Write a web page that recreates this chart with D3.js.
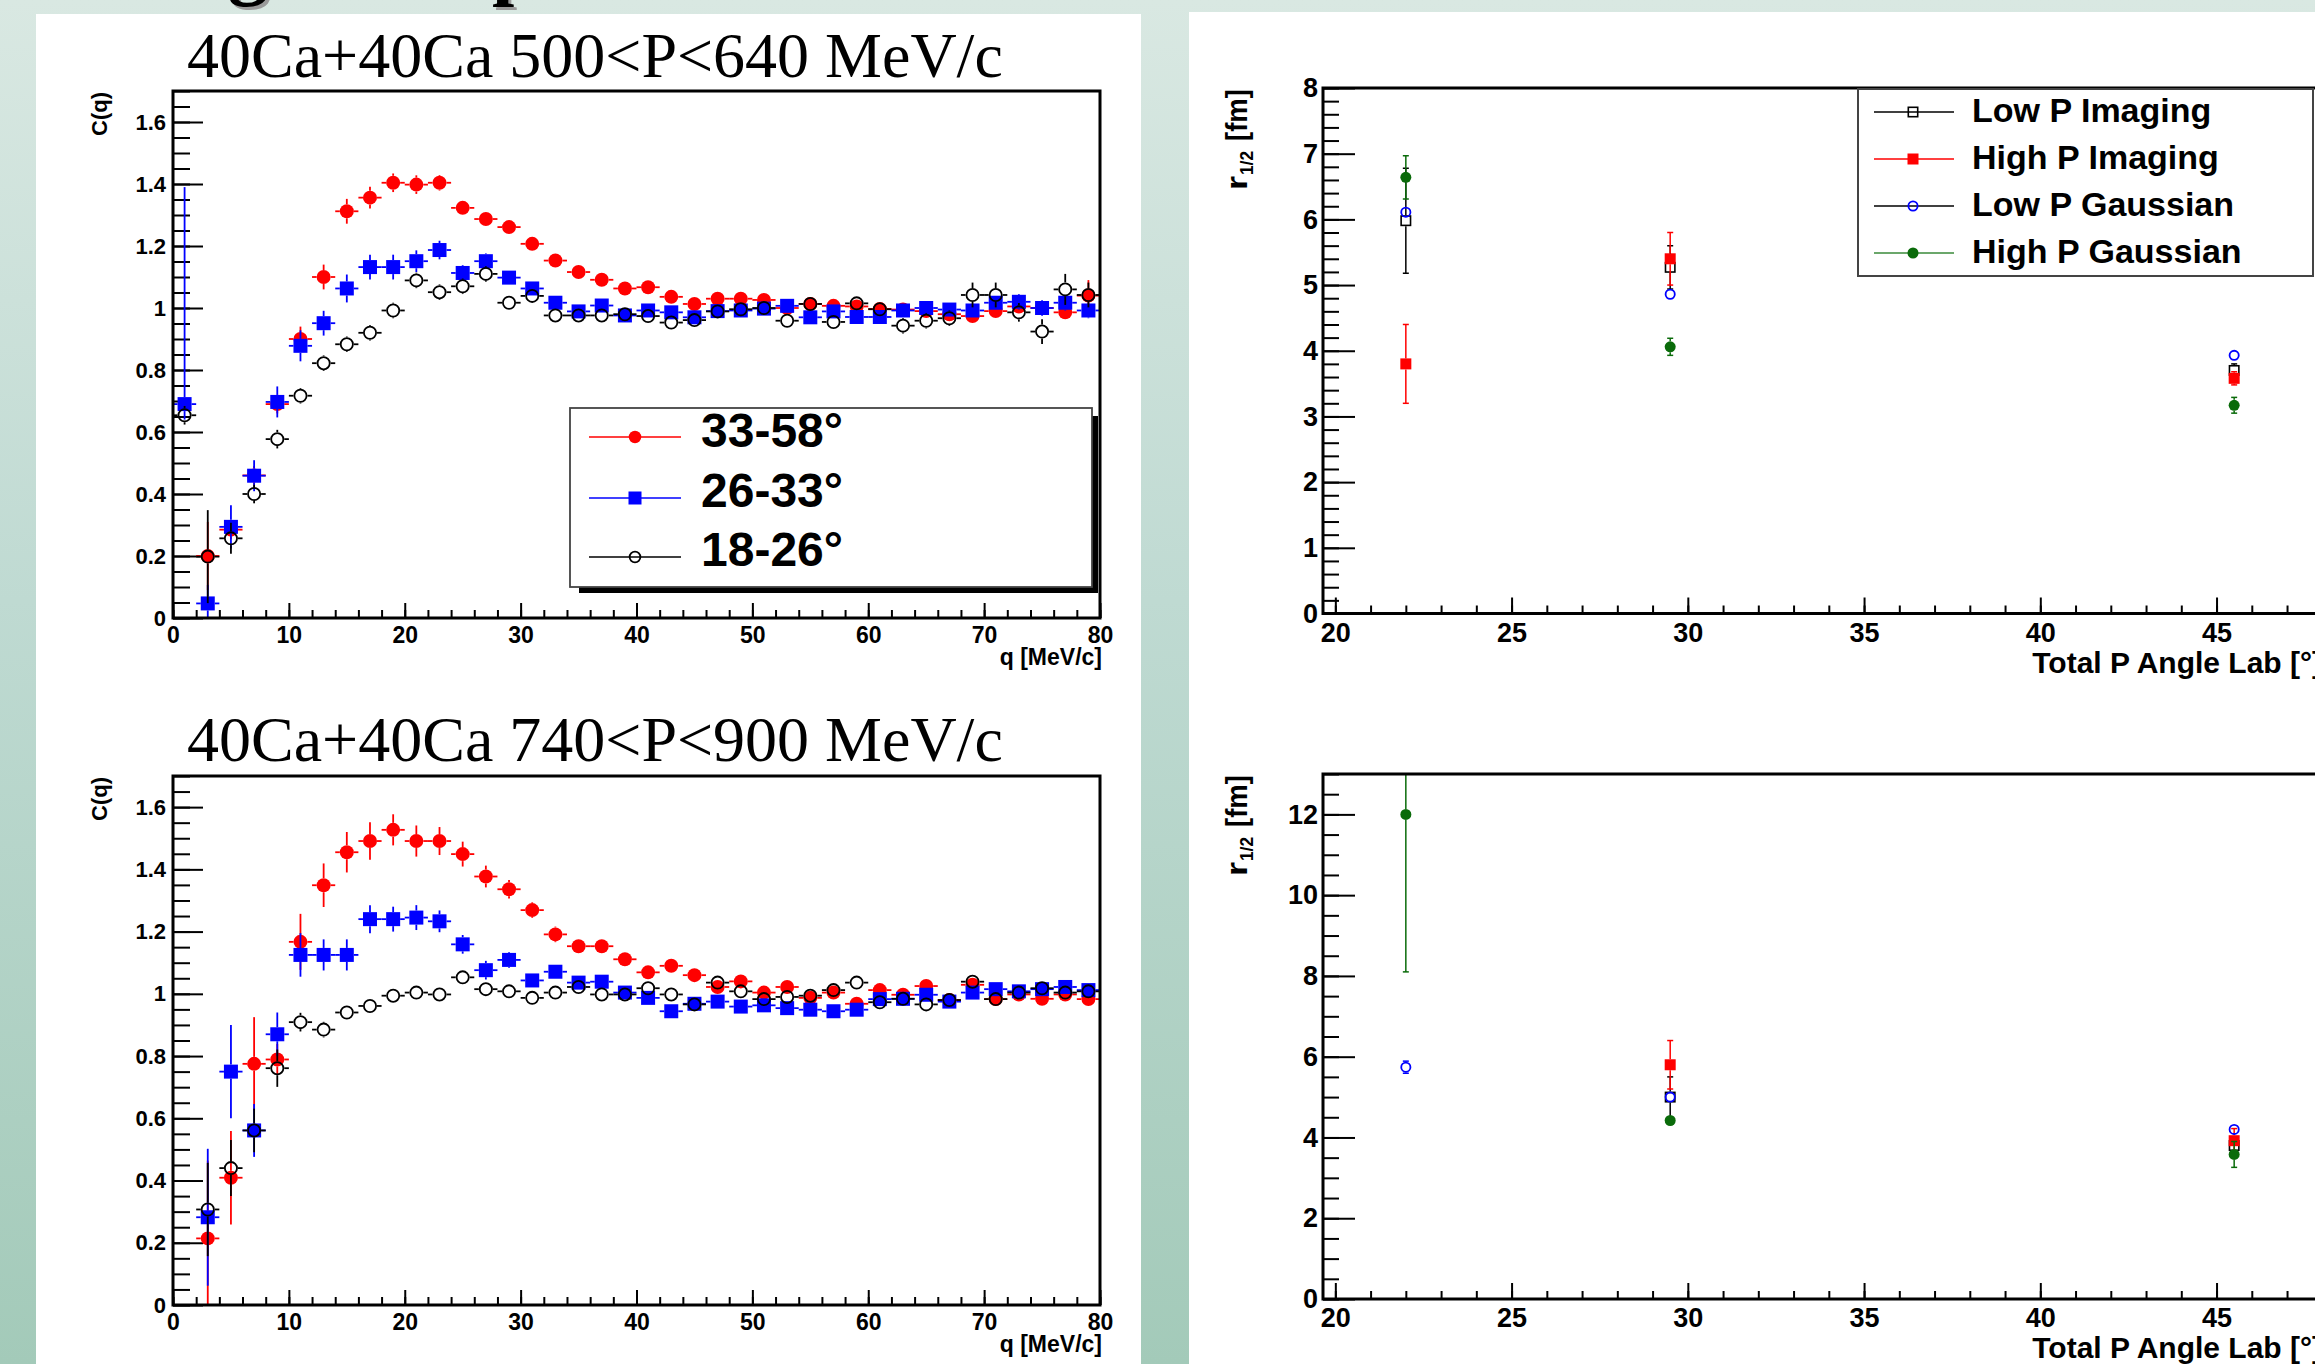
<!DOCTYPE html>
<html><head><meta charset="utf-8">
<script src="https://cdn.jsdelivr.net/npm/d3@7"></script>
<style>body{margin:0;background:#fff}svg{display:block}</style>
</head><body><svg id="c" width="2315" height="1364"></svg>
<script>
// ---------------- DATA ----------------
const qBins = [1,3,5,7,9,11,13,15,17,19,21,23,25,27,29,31,33,35,37,39,41,43,45,47,49,51,53,55,57,59,61,63,65,67,69,71,73,75,77,79];
const seriesNames = ["33-58°", "26-33°", "18-26°"];
const titleLow = "40Ca+40Ca 500<P<640 MeV/c";
const titleHigh = "40Ca+40Ca 740<P<900 MeV/c";

// 500<P<640
const lowRed = [null,0.20,0.285,0.46,0.69,0.90,1.10,1.312,1.356,1.404,1.398,1.404,1.323,1.287,1.261,1.207,1.153,1.116,1.091,1.063,1.067,1.036,1.013,1.03,1.03,1.026,1.0,1.013,1.007,1.005,0.997,0.995,0.99,0.98,0.974,0.99,1.005,1.0,0.986,1.04];
const lowRedErr = [null,0.11,0.03,0.03,0.03,0.04,0.04,0.04,0.035,0.03,0.03,0.025,0.02,0.02,0.02,0.018,0.017,0.016,0.015,0.015,0.015,0.015,0.015,0.015,0.015,0.015,0.015,0.015,0.015,0.015,0.015,0.015,0.015,0.015,0.015,0.015,0.02,0.02,0.02,0.05];
const lowBlue = [0.69,0.047,0.294,0.459,0.697,0.878,0.951,1.063,1.132,1.132,1.151,1.187,1.113,1.151,1.098,1.063,1.017,0.989,1.008,0.976,0.992,0.986,0.970,0.990,0.992,0.998,1.007,0.970,0.989,0.971,0.971,0.992,1.0,0.995,0.992,1.017,1.02,1.0,1.017,0.992];
const lowBlueErr = [0.7,0.06,0.07,0.05,0.05,0.05,0.04,0.045,0.04,0.04,0.035,0.03,0.025,0.025,0.02,0.02,0.02,0.02,0.02,0.02,0.02,0.02,0.02,0.02,0.02,0.02,0.02,0.02,0.02,0.02,0.02,0.02,0.02,0.02,0.02,0.02,0.025,0.025,0.025,0.025];
const lowBlueErrLo = [0.05,0.06,0.07,0.05,0.05,0.05,0.04,0.045,0.04,0.04,0.035,0.03,0.025,0.025,0.02,0.02,0.02,0.02,0.02,0.02,0.02,0.02,0.02,0.02,0.02,0.02,0.02,0.02,0.02,0.02,0.02,0.02,0.02,0.02,0.02,0.02,0.025,0.025,0.025,0.025];
const lowBlack = [0.654,0.198,0.257,0.40,0.577,0.717,0.822,0.883,0.920,0.992,1.089,1.051,1.070,1.110,1.017,1.039,0.976,0.976,0.976,0.98,0.974,0.953,0.961,0.989,0.996,1.0,0.959,1.013,0.955,1.015,0.996,0.943,0.959,0.967,1.042,1.042,0.986,0.924,1.06,1.042];
const lowBlackErr = [0.03,0.15,0.05,0.03,0.03,0.025,0.025,0.025,0.025,0.025,0.025,0.025,0.025,0.025,0.02,0.02,0.02,0.02,0.02,0.02,0.02,0.02,0.02,0.02,0.02,0.02,0.02,0.02,0.02,0.02,0.02,0.025,0.025,0.025,0.04,0.04,0.03,0.04,0.05,0.04];

// 740<P<900
const highRed = [null,0.214,0.409,0.775,0.789,1.167,1.349,1.455,1.491,1.527,1.491,1.491,1.449,1.377,1.336,1.269,1.191,1.153,1.153,1.111,1.069,1.090,1.060,1.022,1.040,1.004,1.022,0.987,1.004,0.968,1.012,0.997,1.025,0.980,1.029,0.983,0.998,0.984,0.998,0.983];
const highRedErr = [null,0.25,0.15,0.15,0.05,0.09,0.07,0.065,0.06,0.05,0.05,0.045,0.04,0.035,0.03,0.025,0.025,0.02,0.02,0.02,0.018,0.018,0.018,0.018,0.018,0.018,0.018,0.018,0.018,0.018,0.018,0.018,0.018,0.018,0.018,0.018,0.018,0.018,0.018,0.018];
const highBlue = [null,0.282,0.750,0.561,0.870,1.125,1.125,1.125,1.240,1.240,1.245,1.233,1.159,1.076,1.109,1.043,1.071,1.036,1.039,1.004,0.987,0.944,0.968,0.975,0.959,0.963,0.954,0.949,0.944,0.949,0.983,0.984,0.997,0.975,1.004,1.015,1.008,1.015,1.022,1.012];
const highBlueErr = [null,0.22,0.15,0.085,0.07,0.07,0.05,0.05,0.045,0.04,0.04,0.035,0.03,0.03,0.025,0.02,0.02,0.018,0.018,0.018,0.018,0.018,0.018,0.018,0.018,0.018,0.018,0.018,0.018,0.018,0.018,0.018,0.018,0.018,0.018,0.018,0.018,0.018,0.018,0.018];
const highBlack = [null,0.307,0.440,0.561,0.761,0.909,0.885,0.940,0.961,0.994,1.004,0.998,1.053,1.015,1.008,0.987,1.004,1.022,0.998,0.998,1.018,0.998,0.966,1.036,1.008,0.983,0.990,0.994,1.012,1.036,0.973,0.984,0.966,0.980,1.039,0.983,1.004,1.018,1.004,1.008];
const highBlackErr = [null,0.15,0.09,0.07,0.06,0.03,0.025,0.02,0.02,0.02,0.02,0.02,0.02,0.02,0.02,0.02,0.02,0.02,0.02,0.02,0.02,0.02,0.02,0.02,0.02,0.02,0.02,0.02,0.02,0.02,0.02,0.02,0.02,0.02,0.02,0.02,0.02,0.02,0.02,0.02];

// Radius vs angle
const radiusNames = ["Low P Imaging", "High P Imaging", "Low P Gaussian", "High P Gaussian"];
const angles = [22, 29.5, 45.5];
// upper panel
const topLPI = [5.98, 5.27, 3.70];   const topLPIErr = [0.8, 0.33, 0.1];
const topHPI = [3.80, 5.40, 3.58];   const topHPIErr = [0.6, 0.4, 0.1];
const topLPG = [6.11, 4.86, 3.93];   const topLPGErr = [0.08, 0.05, 0.05];
const topHPG = [6.64, 4.06, 3.17];   const topHPGErr = [0.33, 0.13, 0.12];
// lower panel
const botLPI = [null, 5.0, 3.80];    const botLPIErr = [null, 0.5, 0.15];
const botHPI = [null, 5.80, 3.92];   const botHPIErr = [null, 0.6, 0.3];
const botLPG = [5.74, 5.0, 4.20];    const botLPGErr = [0.15, 0.05, 0.05];
const botHPG = [12.0, 4.42, 3.58];   const botHPGErr = [3.9, 0.1, 0.32];

// tick values
const cqMajor = [0,0.2,0.4,0.6,0.8,1,1.2,1.4,1.6];
const qMajor = [0,10,20,30,40,50,60,70,80];
const angMajor = [20,25,30,35,40,45];
const rTopMajor = [0,1,2,3,4,5,6,7,8];
const rBotMajor = [0,2,4,6,8,10,12];

// ---------------- DRAW ----------------
const svg = d3.select("#c");
const defs = svg.append("defs");
const grad = defs.append("linearGradient").attr("id","bg").attr("x1",0).attr("y1",0).attr("x2",0).attr("y2",1);
grad.append("stop").attr("offset","0%").attr("stop-color","#d9e8e2");
grad.append("stop").attr("offset","44%").attr("stop-color","#bfdad2");
grad.append("stop").attr("offset","100%").attr("stop-color","#a3cab9");
svg.append("rect").attr("width",2315).attr("height",1364).attr("fill","url(#bg)");

// cut-off slide title (only descenders visible)
const st = svg.append("g").attr("font-family","Liberation Serif, serif").attr("font-weight","bold").attr("font-size",80);
[["g",228],["p",492]].forEach(([t,xx])=>{
  st.append("text").attr("x",xx+3).attr("y",-7).attr("fill","#9a9a9a").text(t);
  st.append("text").attr("x",xx).attr("y",-10).attr("fill","#000").text(t);
});

// white panels
svg.append("rect").attr("x",36).attr("y",14).attr("width",1105).attr("height",1350).attr("fill","#fff");
svg.append("rect").attr("x",1189).attr("y",12).attr("width",1126).attr("height",1352).attr("fill","#fff");

const sans = "Liberation Sans, Arial, Helvetica, sans-serif";
const fmtC = d => d===0 ? "0" : String(+d.toFixed(1));

let clipId = 0;
function addClip(x0,y0,w,h){
  const id = "clip"+(clipId++);
  defs.append("clipPath").attr("id",id).append("rect").attr("x",x0).attr("y",y0).attr("width",w).attr("height",h);
  return id;
}

function styleAxis(g, fs){
  g.select(".domain").remove();
  g.selectAll("line").attr("stroke","#000").attr("stroke-width",2);
  g.selectAll("text").attr("font-family",sans).attr("font-weight","bold").attr("font-size",fs).attr("fill","#000");
}

function range(a,b,s){ const r=[]; for(let v=a; v<=b+1e-9; v+=s) r.push(+v.toFixed(4)); return r; }

function marker(g, type, cx, cy, size, color){
  if(type==="fcircle") g.append("circle").attr("cx",cx).attr("cy",cy).attr("r",size/2).attr("fill",color);
  else if(type==="ocircle") g.append("circle").attr("cx",cx).attr("cy",cy).attr("r",size/2-0.9).attr("fill","none").attr("stroke",color).attr("stroke-width",1.8);
  else if(type==="fsquare") g.append("rect").attr("x",cx-size/2).attr("y",cy-size/2).attr("width",size).attr("height",size).attr("fill",color);
  else if(type==="osquare") g.append("rect").attr("x",cx-size/2+0.8).attr("y",cy-size/2+0.8).attr("width",size-1.6).attr("height",size-1.6).attr("fill","none").attr("stroke",color).attr("stroke-width",1.6);
}

function seg(g,x1,y1,x2,y2,color,w){
  g.append("line").attr("x1",x1).attr("y1",y1).attr("x2",x2).attr("y2",y2).attr("stroke",color).attr("stroke-width",w);
}

// ------- C(q) panels -------
function drawCq(yTop, yBot, title, titleBase, series, legend){
  const x = d3.scaleLinear().domain([0,80]).range([173,1100]);
  const y = d3.scaleLinear().domain([0,1.7]).range([yBot,yTop]);

  svg.append("text").attr("x",187).attr("y",titleBase).attr("font-family","Liberation Serif, Times New Roman, serif")
    .attr("font-size",64).attr("fill","#000").text(title);

  const gyMin = svg.append("g").attr("transform",`translate(${x(0)},0)`)
    .call(d3.axisLeft(y).tickValues(range(0,1.7,0.05)).tickSize(-17).tickFormat(""));
  styleAxis(gyMin,22);
  const gy = svg.append("g").attr("transform",`translate(${x(0)},0)`)
    .call(d3.axisLeft(y).tickValues(cqMajor).tickSize(-30).tickPadding(7).tickFormat(fmtC));
  styleAxis(gy,22);
  const gxMin = svg.append("g").attr("transform",`translate(0,${yBot})`)
    .call(d3.axisBottom(x).tickValues(range(0,80,2)).tickSize(-8).tickFormat(""));
  styleAxis(gxMin,23);
  const gx = svg.append("g").attr("transform",`translate(0,${yBot})`)
    .call(d3.axisBottom(x).tickValues(qMajor).tickSize(-15).tickPadding(9).tickFormat(d=>d));
  styleAxis(gx,23);

  svg.append("text").attr("transform",`translate(107,${yTop+1}) rotate(-90)`).attr("text-anchor","end")
    .attr("font-family",sans).attr("font-weight","bold").attr("font-size",22).text("C(q)");
  svg.append("text").attr("x",1102).attr("y",yBot+47).attr("text-anchor","end")
    .attr("font-family",sans).attr("font-weight","bold").attr("font-size",23).text("q [MeV/c]");

  const cid = addClip(x(0), yTop, x(80)-x(0), yBot-yTop);
  const dg = svg.append("g").attr("clip-path",`url(#${cid})`);
  series.forEach(s=>{
    const r = s.size/2;
    qBins.forEach((q,i)=>{
      const v = s.vals[i]; if(v==null) return;
      const cx = x(q), cy = y(v);
      const eh = s.errs[i], el = s.errsLo ? s.errsLo[i] : s.errs[i];
      const xl = x(q-1), xr = x(q+1);
      const yh = y(v+eh), yl = y(v-el);
      if(cx - xl > r) { seg(dg,xl,cy,cx-r,cy,s.color,1.8); seg(dg,cx+r,cy,xr,cy,s.color,1.8); }
      if(cy - yh > r) seg(dg,cx,yh,cx,cy-r,s.color,1.8);
      if(yl - cy > r) seg(dg,cx,cy+r,cx,yl,s.color,1.8);
      marker(dg,s.type,cx,cy,s.size,s.color);
    });
  });

  svg.append("rect").attr("x",x(0)).attr("y",yTop).attr("width",x(80)-x(0)).attr("height",yBot-yTop)
    .attr("fill","none").attr("stroke","#000").attr("stroke-width",3);

  if(legend){
    const lg = svg.append("g");
    lg.append("rect").attr("x",579).attr("y",416).attr("width",519).attr("height",177).attr("fill","#000");
    lg.append("rect").attr("x",570).attr("y",408).attr("width",522).attr("height",179).attr("fill","#fff").attr("stroke","#444").attr("stroke-width",1.8);
    const rowsY = [437,498,557];
    const baseY = [447,507,566];
    [0,1,2].forEach((k,j)=>{
      const s = series.find(t=>t.idx===k);
      seg(lg,589,rowsY[j],681,rowsY[j],s.color,1.6);
      marker(lg,s.type,635,rowsY[j],s.type==="fsquare"?13:12.5,s.color);
      lg.append("text").attr("x",701).attr("y",baseY[j])
        .attr("font-family",sans).attr("font-weight","bold").attr("font-size",48).text(seriesNames[k]);
    });
  }
}

drawCq(91, 618, titleLow, 77, [
  {idx:0, vals:lowRed, errs:lowRedErr, color:"#ff0000", type:"fcircle", size:14},
  {idx:1, vals:lowBlue, errs:lowBlueErr, errsLo:lowBlueErrLo, color:"#0000ff", type:"fsquare", size:14},
  {idx:2, vals:lowBlack, errs:lowBlackErr, color:"#000000", type:"ocircle", size:14}
], true);
drawCq(776, 1305, titleHigh, 761, [
  {idx:0, vals:highRed, errs:highRedErr, color:"#ff0000", type:"fcircle", size:14},
  {idx:1, vals:highBlue, errs:highBlueErr, color:"#0000ff", type:"fsquare", size:14},
  {idx:2, vals:highBlack, errs:highBlackErr, color:"#000000", type:"ocircle", size:14}
], false);

// ------- radius panels -------
const green = "#0a6b0a";
function drawR(yTop, yBot, yMax, major, minorStep, sets, legend){
  const x = d3.scaleLinear().domain([19.65,47.85]).range([1323,2317]);
  const y = d3.scaleLinear().domain([0,yMax]).range([yBot,yTop]);

  const gyMin = svg.append("g").attr("transform",`translate(1323,0)`)
    .call(d3.axisLeft(y).tickValues(range(0,yMax,minorStep)).tickSize(-16).tickFormat(""));
  styleAxis(gyMin,27);
  const gy = svg.append("g").attr("transform",`translate(1323,0)`)
    .call(d3.axisLeft(y).tickValues(major).tickSize(-32).tickPadding(5).tickFormat(d=>d));
  styleAxis(gy,27);
  const gxMin = svg.append("g").attr("transform",`translate(0,${yBot})`)
    .call(d3.axisBottom(x).tickValues(range(20,47,1)).tickSize(-8).tickFormat(""));
  styleAxis(gxMin,27);
  const gx = svg.append("g").attr("transform",`translate(0,${yBot})`)
    .call(d3.axisBottom(x).tickValues(angMajor).tickSize(-16).tickPadding(9).tickFormat(d=>d));
  styleAxis(gx,27);

  // y title r_{1/2} [fm]  (rotated; pieces laid out along the axis from the top)
  const yt = svg.append("g").attr("transform",`translate(1247,0) rotate(-90)`)
    .attr("font-family",sans).attr("font-weight","bold");
  const piece = (txt, a, b, fs, dyy) => yt.append("text")
    .attr("x",-(yTop+b)).attr("y",dyy).attr("font-size",fs)
    .attr("textLength",b-a).attr("lengthAdjust","spacingAndGlyphs").text(txt);
  piece("[fm]", 1, 53, 29, 0);
  piece("1/2", 63, 87, 19, 6);
  piece("r", 88, 102, 29, 0);

  svg.append("text").attr("x",2322).attr("y",yBot+59).attr("text-anchor","end")
    .attr("font-family",sans).attr("font-weight","bold").attr("font-size",30).text("Total P Angle Lab [°]");

  const cid = addClip(1323, yTop, 2317-1323, yBot-yTop);
  const dg = svg.append("g").attr("clip-path",`url(#${cid})`);
  sets.forEach(s=>{
    angles.forEach((a,i)=>{
      const v = s.vals[i]; if(v==null) return;
      const cx = x(a), cy = y(v), e = s.errs[i];
      const yh = y(v+e), yl = y(v-e), r = s.size/2;
      if(cy - yh > r){
        seg(dg,cx,yh,cx,cy-r,s.ecolor,1.5); seg(dg,cx,cy+r,cx,yl,s.ecolor,1.5);
        seg(dg,cx-3,yh,cx+3,yh,s.ecolor,1.5); seg(dg,cx-3,yl,cx+3,yl,s.ecolor,1.5);
      }
      marker(dg,s.type,cx,cy,s.size,s.color);
    });
  });

  svg.append("rect").attr("x",1323).attr("y",yTop).attr("width",2317-1323).attr("height",yBot-yTop)
    .attr("fill","none").attr("stroke","#000").attr("stroke-width",3);

  if(legend){
    const lg = svg.append("g");
    lg.append("rect").attr("x",1858).attr("y",89).attr("width",455).attr("height",187).attr("fill","#fff").attr("stroke","#444").attr("stroke-width",2);
    const rowsY = [112,159,206,253];
    sets.forEach((s,j)=>{
      seg(lg,1874,rowsY[j],1954,rowsY[j],s.lcolor,1.5);
      marker(lg,s.type,1913,rowsY[j],11,s.color);
      lg.append("text").attr("x",1972).attr("y",rowsY[j]+10).attr("font-family",sans).attr("font-weight","bold")
        .attr("font-size",34).text(radiusNames[j]);
    });
  }
}

drawR(88, 613.5, 8, rTopMajor, 0.2, [
  {vals:topLPI, errs:topLPIErr, color:"#000", ecolor:"#000", lcolor:"#000", type:"osquare", size:11},
  {vals:topHPI, errs:topHPIErr, color:"#ff0000", ecolor:"#ff0000", lcolor:"#ff0000", type:"fsquare", size:11},
  {vals:topLPG, errs:topLPGErr, color:"#0000ff", ecolor:"#0000ff", lcolor:"#000", type:"ocircle", size:11},
  {vals:topHPG, errs:topHPGErr, color:green, ecolor:green, lcolor:"#3a8a3a", type:"fcircle", size:11}
], true);
drawR(774, 1299, 13, rBotMajor, 0.5, [
  {vals:botLPI, errs:botLPIErr, color:"#000", ecolor:"#000", lcolor:"#000", type:"osquare", size:11},
  {vals:botHPI, errs:botHPIErr, color:"#ff0000", ecolor:"#ff0000", lcolor:"#ff0000", type:"fsquare", size:11},
  {vals:botLPG, errs:botLPGErr, color:"#0000ff", ecolor:"#0000ff", lcolor:"#000", type:"ocircle", size:11},
  {vals:botHPG, errs:botHPGErr, color:green, ecolor:green, lcolor:"#3a8a3a", type:"fcircle", size:11}
], false);
</script></body></html>
